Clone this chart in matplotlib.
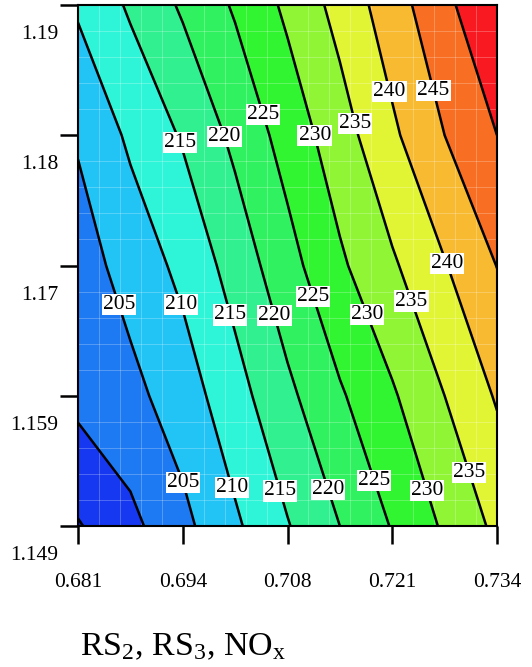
import numpy as np
import matplotlib
matplotlib.use("Agg")
import matplotlib.pyplot as plt
from matplotlib.colors import ListedColormap, BoundaryNorm
from matplotlib.transforms import ScaledTranslation

plt.rcParams['font.family'] = ['Liberation Serif', 'DejaVu Serif']
plt.rcParams['mathtext.fontset'] = 'custom'
plt.rcParams['mathtext.rm'] = 'Liberation Serif'
plt.rcParams['mathtext.it'] = 'Liberation Serif:italic'

# ---- data ----
x_vals = np.linspace(0.681, 0.734, 9)
y_vals = np.linspace(1.149, 1.190, 5)
# response surface values (rows: bottom -> top, columns: left -> right)
z_row0 = [194.6, 198.7, 203.7, 209.2, 214.7, 220.0, 225.3, 230.7, 236.1]
z_row1 = [201.4, 203.6, 207.5, 213.1, 218.9, 224.4, 229.4, 235.0, 240.5]
z_row2 = [202.8, 206.9, 211.3, 217.0, 223.2, 229.2, 234.3, 239.7, 245.1]
z_row3 = [205.5, 210.9, 215.5, 221.2, 227.0, 232.8, 239.1, 245.0, 250.0]
z_row4 = [210.7, 215.7, 220.7, 225.6, 231.0, 236.7, 242.7, 248.8, 254.5]

fill_levels = [180, 195, 200, 205, 210, 215, 220, 225, 230, 235, 240, 245, 250, 260]
line_levels = [195, 200, 205, 210, 215, 220, 225, 230, 235, 240, 245, 250]
band_colors = ['#0c1ed8', '#1538f0', '#1e7af2', '#22c3f5', '#2ff5d8', '#30f090',
               '#30f260', '#30f530', '#90f535', '#e2f535', '#f8ba30', '#f86e22', '#f81a20']

x_ticks = np.linspace(0.681, 0.734, 5)
x_ticklabels = ['0.681', '0.694', '0.708', '0.721', '0.734']
y_ticks = np.linspace(1.149, 1.190, 5)
y_ticklabels = ['1.149', '1.159', '1.17', '1.18', '1.19']

label_positions = [
    (0.6853, 1.16623), (0.69327, 1.15223),
    (0.69314, 1.16623), (0.69959, 1.15191),
    (0.69302, 1.17898), (0.69934, 1.16545), (0.70567, 1.1516),
    (0.69934, 1.17961), (0.70478, 1.16537), (0.71174, 1.15168),
    (0.70427, 1.18134), (0.70946, 1.16679), (0.71756, 1.15238),
    (0.71035, 1.17961), (0.71654, 1.16537), (0.72413, 1.1516),
    (0.71541, 1.18056), (0.72211, 1.16647), (0.72957, 1.15301),
    (0.71958, 1.18308), (0.72666, 1.16938),
    (0.72527, 1.18316),
]

Z = np.array([z_row0, z_row1, z_row2, z_row3, z_row4])
X, Y = np.meshgrid(x_vals, y_vals)

fig = plt.figure(figsize=(5.32, 6.67), dpi=100)
ax = fig.add_axes([78/532, 141/667, 419/532, 521/667])

cmap = ListedColormap(band_colors)
norm = BoundaryNorm(fill_levels, cmap.N)
ax.contourf(X, Y, Z, levels=fill_levels, cmap=cmap, norm=norm)
cs = ax.contour(X, Y, Z, levels=line_levels, colors='black', linewidths=1.8)
labels = ax.clabel(cs, fmt='%d', fontsize=15.5, inline=False, manual=label_positions)
for t in labels:
    t.set_rotation(0)
    t.set_bbox(dict(facecolor='white', edgecolor='none', pad=0.8))
    t.set_zorder(5)

ax.set_xlim(0.681, 0.734)
ax.set_ylim(1.149, 1.190)
ax.set_xticks(x_ticks)
ax.set_xticklabels(x_ticklabels)
ax.set_yticks(y_ticks)
ax.set_yticklabels(y_ticklabels)
ax.set_xticks(np.linspace(0.681, 0.734, 21), minor=True)
ax.set_yticks(np.linspace(1.149, 1.190, 21), minor=True)
ax.grid(which='minor', color='white', alpha=0.25, linewidth=0.7)
ax.tick_params(which='minor', length=0)
ax.tick_params(which='major', direction='out', length=13, width=1.8, labelsize=15.5)
ax.tick_params(axis='x', pad=21)
ax.tick_params(axis='y', pad=1)
for s in ax.spines.values():
    s.set_linewidth(1.5)

off = ScaledTranslation(0, -0.27, fig.dpi_scale_trans)
for lbl in ax.get_yticklabels():
    lbl.set_transform(lbl.get_transform() + off)

fig.text(80/532, 12/667, r'RS$_2$, RS$_3$, NO$_\mathrm{x}$', fontsize=24.5, ha='left', va='baseline')

fig.savefig('out.png', dpi=100)
